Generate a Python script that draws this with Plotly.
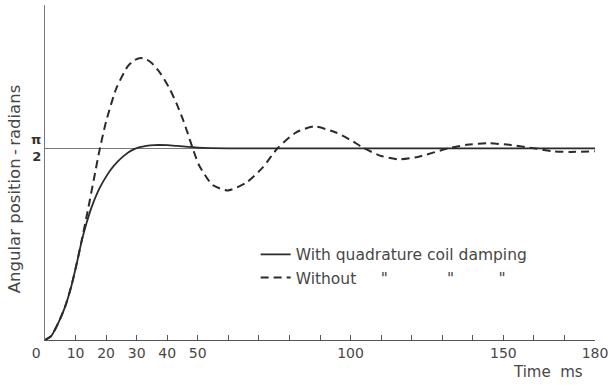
import plotly.graph_objects as go

# Time (ms) and angular position (radians)
t_damped = [0, 2, 4.3, 6.5, 8.7, 10.5, 12, 13.5, 15.2, 17.5, 19.5, 21.5, 24, 26, 28.2,
            31, 35.8, 40, 43.4, 50, 60, 80, 100, 120, 140, 160, 180]
y_damped = [0, 0.031, 0.137, 0.267, 0.449, 0.640, 0.810, 0.950, 1.085, 1.226, 1.318,
            1.395, 1.467, 1.513, 1.552, 1.580, 1.597, 1.596, 1.590, 1.577, 1.571,
            1.571, 1.571, 1.571, 1.571, 1.571, 1.571]

t_without = [0, 2, 4.3, 6.5, 8.7, 10.5, 12, 14, 16, 17.8, 20, 23.3, 27, 29, 31.3, 33, 35,
             38, 40.8, 43, 45.1, 46.7, 48.3, 50.5, 54.8, 59.8, 65.8, 71.2, 76.1, 82.1,
             88.1, 95.2, 100.6, 104.4, 110, 116, 122, 132, 138, 145, 152, 160, 166, 172,
             180]
y_without = [0, 0.031, 0.137, 0.267, 0.449, 0.640, 0.815, 1.060, 1.318, 1.550, 1.790,
             2.060, 2.240, 2.290, 2.310, 2.302, 2.268, 2.177, 2.058, 1.941, 1.809, 1.695,
             1.573, 1.428, 1.272, 1.225, 1.288, 1.412, 1.571, 1.700, 1.750, 1.700, 1.630,
             1.571, 1.508, 1.480, 1.500, 1.571, 1.599, 1.612, 1.599, 1.571, 1.547,
             1.541, 1.547]

x_tickvals = list(range(0, 190, 10))
x_ticktext = ["0\u00a0\u00a0\u00a0\u00a0", "10", "20", "30", "40", "50", "", "", "", "",
              "100", "", "", "", "", "150", "", "", "180"]
y_tickvals = [1.5708]
y_ticktext = ["<b>π</b><br><b>2</b>"]

name_damped = "With quadrature coil damping"
name_without = ("Without" + "\u00a0" * 5 + '"' + "\u00a0" * 12 + '"' + "\u00a0" * 9 + '"')

FONT = "DejaVu Sans"
LINE = "#2b2b2b"
TEXT = "#474747"

fig = go.Figure()
fig.add_trace(go.Scatter(x=t_damped, y=y_damped, mode="lines", name=name_damped,
                         line=dict(color=LINE, width=1.8, shape="spline", smoothing=0.6)))
fig.add_trace(go.Scatter(x=t_without, y=y_without, mode="lines", name=name_without,
                         line=dict(color=LINE, width=2, dash="8px,5px", shape="spline",
                                   smoothing=0.6)))

fig.update_layout(
    width=613, height=385,
    margin=dict(l=45, r=15, t=5, b=45),
    paper_bgcolor="white", plot_bgcolor="white",
    font=dict(family=FONT, size=14, color=TEXT),
    showlegend=True,
    legend=dict(x=0.383, y=0.305, xanchor="left", yanchor="top",
                bgcolor="rgba(0,0,0,0)", font=dict(size=15.5, color=TEXT),
                tracegroupgap=0),
    xaxis=dict(range=[0, 180], tickmode="array", tickvals=x_tickvals, ticktext=x_ticktext,
               ticks="inside", ticklen=5, tickcolor="#555", tickwidth=1.3,
               showline=True, linecolor="#555", linewidth=1.4, showgrid=False,
               zeroline=False, tickfont=dict(size=14, color=TEXT)),
    yaxis=dict(range=[0, 2.745], tickmode="array", tickvals=y_tickvals, ticktext=y_ticktext,
               ticks="", showline=True, linecolor="#777", linewidth=1.3,
               showgrid=True, gridcolor="#777", gridwidth=1.2, zeroline=False,
               tickfont=dict(size=13, color="#333")),
    annotations=[
        dict(text="Angular position\u2009-\u2009radians", xref="paper", yref="paper",
             x=(14 - 45) / 553, y=(340 - 189) / 335, xanchor="center", yanchor="middle",
             textangle=-90, showarrow=False,
             font=dict(size=16.5, color=TEXT, family=FONT)),
        dict(text="Time\u00a0\u00a0ms", xref="paper", yref="paper",
             x=(551 - 45) / 553, y=(340 - 372) / 335, xanchor="center", yanchor="middle",
             showarrow=False, font=dict(size=15, color=TEXT, family=FONT)),
    ],
)

fig.write_html("out.html")
